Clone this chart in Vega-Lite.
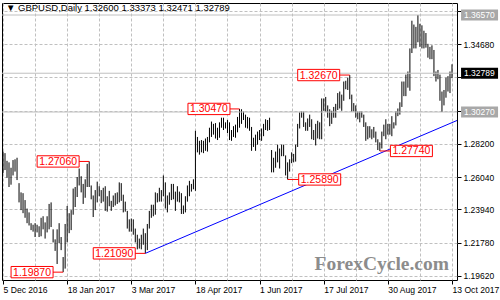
{
  "$schema": "https://vega.github.io/schema/vega-lite/v6.json",
  "width": 455,
  "height": 277,
  "autosize": "none",
  "padding": {"left": 2, "top": 3, "right": 43, "bottom": 20},
  "background": "white",
  "config": {"view": {"stroke": "black", "strokeWidth": 1}, "font": "Liberation Sans", "axis": {"labelOverlap": false}},
  "title": {"text": "▼ GBPUSD,Daily  1.32600 1.33373 1.32471 1.32789", "anchor": "start", "frame": "group", "orient": "top", "offset": -14, "dx": 4, "font": "Liberation Sans", "fontSize": 9.5, "fontWeight": "normal", "color": "black", "baseline": "middle"},
  "datasets": {
    "bars": [
      {"i":0,"h":1.2770,"l":1.2630},{"i":1,"h":1.2760,"l":1.2650},{"i":2,"h":1.2710,"l":1.2600},{"i":3,"h":1.2700,"l":1.2540},{"i":4,"h":1.2665,"l":1.2555},
      {"i":5,"h":1.2715,"l":1.2615},{"i":6,"h":1.2720,"l":1.2640},{"i":7,"h":1.2730,"l":1.2585},{"i":8,"h":1.2565,"l":1.2440},{"i":9,"h":1.2505,"l":1.2390},
      {"i":10,"h":1.2500,"l":1.2370},{"i":11,"h":1.2455,"l":1.2340},{"i":12,"h":1.2400,"l":1.2305},{"i":13,"h":1.2375,"l":1.2290},{"i":14,"h":1.2305,"l":1.2260},
      {"i":15,"h":1.2295,"l":1.2250},{"i":16,"h":1.2305,"l":1.2215},{"i":17,"h":1.2295,"l":1.2245},{"i":18,"h":1.2285,"l":1.2215},{"i":19,"h":1.2340,"l":1.2220},
      {"i":20,"h":1.2350,"l":1.2265},{"i":21,"h":1.2310,"l":1.2205},{"i":22,"h":1.2350,"l":1.2245},{"i":23,"h":1.2430,"l":1.2265},{"i":24,"h":1.2440,"l":1.2280},
      {"i":25,"h":1.2265,"l":1.2180},{"i":26,"h":1.2200,"l":1.2125},{"i":27,"h":1.2265,"l":1.2040},{"i":28,"h":1.2305,"l":1.2175},{"i":29,"h":1.2215,"l":1.2130},
      {"i":30,"h":1.2085,"l":1.1987},{"i":31,"h":1.2300,"l":1.2010},{"i":32,"h":1.2417,"l":1.2180},{"i":33,"h":1.2370,"l":1.2240},{"i":34,"h":1.2390,"l":1.2260},
      {"i":35,"h":1.2530,"l":1.2360},{"i":36,"h":1.2540,"l":1.2410},{"i":37,"h":1.2605,"l":1.2475},{"i":38,"h":1.2660,"l":1.2550},{"i":39,"h":1.2610,"l":1.2505},
      {"i":40,"h":1.2560,"l":1.2430},{"i":41,"h":1.2590,"l":1.2470},{"i":42,"h":1.2690,"l":1.2540},{"i":43,"h":1.2706,"l":1.2540},{"i":44,"h":1.2550,"l":1.2460},
      {"i":45,"h":1.2485,"l":1.2345},{"i":46,"h":1.2520,"l":1.2390},{"i":47,"h":1.2575,"l":1.2440},{"i":48,"h":1.2545,"l":1.2480},{"i":49,"h":1.2520,"l":1.2435},
      {"i":50,"h":1.2535,"l":1.2445},{"i":51,"h":1.2545,"l":1.2385},{"i":52,"h":1.2480,"l":1.2380},{"i":53,"h":1.2515,"l":1.2415},{"i":54,"h":1.2450,"l":1.2385},
      {"i":55,"h":1.2485,"l":1.2410},{"i":56,"h":1.2500,"l":1.2420},{"i":57,"h":1.2505,"l":1.2430},{"i":58,"h":1.2570,"l":1.2440},{"i":59,"h":1.2565,"l":1.2450},
      {"i":60,"h":1.2490,"l":1.2375},{"i":61,"h":1.2445,"l":1.2380},{"i":62,"h":1.2385,"l":1.2270},{"i":63,"h":1.2330,"l":1.2250},{"i":64,"h":1.2335,"l":1.2250},
      {"i":65,"h":1.2330,"l":1.2230},{"i":66,"h":1.2270,"l":1.2180},{"i":67,"h":1.2230,"l":1.2135},{"i":68,"h":1.2205,"l":1.2140},{"i":69,"h":1.2230,"l":1.2135},
      {"i":70,"h":1.2270,"l":1.2165},{"i":71,"h":1.2240,"l":1.2109},{"i":72,"h":1.2300,"l":1.2130},{"i":73,"h":1.2385,"l":1.2270},{"i":74,"h":1.2425,"l":1.2340},
      {"i":75,"h":1.2425,"l":1.2350},{"i":76,"h":1.2505,"l":1.2360},{"i":77,"h":1.2500,"l":1.2440},{"i":78,"h":1.2535,"l":1.2445},{"i":79,"h":1.2520,"l":1.2445},
      {"i":80,"h":1.2615,"l":1.2480},{"i":81,"h":1.2570,"l":1.2400},{"i":82,"h":1.2485,"l":1.2375},{"i":83,"h":1.2505,"l":1.2425},{"i":84,"h":1.2560,"l":1.2455},
      {"i":85,"h":1.2560,"l":1.2460},{"i":86,"h":1.2510,"l":1.2385},{"i":87,"h":1.2545,"l":1.2445},{"i":88,"h":1.2510,"l":1.2440},{"i":89,"h":1.2500,"l":1.2365},
      {"i":90,"h":1.2420,"l":1.2365},{"i":91,"h":1.2480,"l":1.2375},{"i":92,"h":1.2550,"l":1.2445},{"i":93,"h":1.2580,"l":1.2480},{"i":94,"h":1.2560,"l":1.2510},
      {"i":95,"h":1.2590,"l":1.2525},{"i":96,"h":1.2905,"l":1.2515},{"i":97,"h":1.2865,"l":1.2765},{"i":98,"h":1.2840,"l":1.2750},{"i":99,"h":1.2845,"l":1.2765},
      {"i":100,"h":1.2840,"l":1.2760},{"i":101,"h":1.2855,"l":1.2775},{"i":102,"h":1.2865,"l":1.2770},{"i":103,"h":1.2925,"l":1.2830},{"i":104,"h":1.2965,"l":1.2865},
      {"i":105,"h":1.2950,"l":1.2880},{"i":106,"h":1.2955,"l":1.2855},{"i":107,"h":1.2925,"l":1.2845},{"i":108,"h":1.2960,"l":1.2860},{"i":109,"h":1.2990,"l":1.2925},
      {"i":110,"h":1.2990,"l":1.2910},{"i":111,"h":1.2960,"l":1.2920},{"i":112,"h":1.2975,"l":1.2890},{"i":113,"h":1.2960,"l":1.2845},{"i":114,"h":1.2910,"l":1.2840},
      {"i":115,"h":1.2935,"l":1.2865},{"i":116,"h":1.2945,"l":1.2860},{"i":117,"h":1.2995,"l":1.2895},{"i":118,"h":1.3047,"l":1.2925},{"i":119,"h":1.3045,"l":1.2950},
      {"i":120,"h":1.3030,"l":1.2975},{"i":121,"h":1.3010,"l":1.2925},{"i":122,"h":1.2995,"l":1.2920},{"i":123,"h":1.2990,"l":1.2905},{"i":124,"h":1.2930,"l":1.2775},
      {"i":125,"h":1.2860,"l":1.2800},{"i":126,"h":1.2880,"l":1.2775},{"i":127,"h":1.2900,"l":1.2815},{"i":128,"h":1.2910,"l":1.2845},{"i":129,"h":1.2920,"l":1.2840},
      {"i":130,"h":1.2950,"l":1.2870},{"i":131,"h":1.2980,"l":1.2910},{"i":132,"h":1.2975,"l":1.2905},{"i":133,"h":1.2990,"l":1.2910},{"i":134,"h":1.2780,"l":1.2635},
      {"i":135,"h":1.2730,"l":1.2635},{"i":136,"h":1.2770,"l":1.2665},{"i":137,"h":1.2815,"l":1.2700},{"i":138,"h":1.2790,"l":1.2660},{"i":139,"h":1.2815,"l":1.2740},
      {"i":140,"h":1.2815,"l":1.2740},{"i":141,"h":1.2745,"l":1.2615},{"i":142,"h":1.2700,"l":1.2589},{"i":143,"h":1.2720,"l":1.2640},{"i":144,"h":1.2765,"l":1.2695},
      {"i":145,"h":1.2755,"l":1.2700},{"i":146,"h":1.2815,"l":1.2705},{"i":147,"h":1.2950,"l":1.2800},{"i":148,"h":1.3025,"l":1.2920},{"i":149,"h":1.3030,"l":1.2990},
      {"i":150,"h":1.3030,"l":1.2930},{"i":151,"h":1.2960,"l":1.2905},{"i":152,"h":1.2985,"l":1.2905},{"i":153,"h":1.3010,"l":1.2930},{"i":154,"h":1.2980,"l":1.2850},
      {"i":155,"h":1.2910,"l":1.2845},{"i":156,"h":1.2950,"l":1.2810},{"i":157,"h":1.2970,"l":1.2855},{"i":158,"h":1.2960,"l":1.2850},{"i":159,"h":1.3115,"l":1.2850},
      {"i":160,"h":1.3115,"l":1.3035},{"i":161,"h":1.3125,"l":1.3030},{"i":162,"h":1.3070,"l":1.2990},{"i":163,"h":1.3045,"l":1.2935},{"i":164,"h":1.3035,"l":1.2950},
      {"i":165,"h":1.3060,"l":1.2990},{"i":166,"h":1.3080,"l":1.2990},{"i":167,"h":1.3150,"l":1.3040},{"i":168,"h":1.3160,"l":1.3050},{"i":169,"h":1.3140,"l":1.3035},
      {"i":170,"h":1.3225,"l":1.3100},{"i":171,"h":1.3230,"l":1.3175},{"i":172,"h":1.3250,"l":1.3170},{"i":173,"h":1.3267,"l":1.3110},{"i":174,"h":1.3140,"l":1.3030},
      {"i":175,"h":1.3085,"l":1.3030},{"i":176,"h":1.3070,"l":1.2990},{"i":177,"h":1.3030,"l":1.2980},{"i":178,"h":1.3030,"l":1.2960},{"i":179,"h":1.3030,"l":1.2990},
      {"i":180,"h":1.3010,"l":1.2930},{"i":181,"h":1.2960,"l":1.2840},{"i":182,"h":1.2935,"l":1.2850},{"i":183,"h":1.2935,"l":1.2860},{"i":184,"h":1.2915,"l":1.2850},
      {"i":185,"h":1.2930,"l":1.2860},{"i":186,"h":1.2900,"l":1.2830},{"i":187,"h":1.2850,"l":1.2780},{"i":188,"h":1.2830,"l":1.2774},{"i":189,"h":1.2900,"l":1.2790},
      {"i":190,"h":1.2945,"l":1.2870},{"i":191,"h":1.2980,"l":1.2850},{"i":192,"h":1.2950,"l":1.2880},{"i":193,"h":1.2950,"l":1.2880},{"i":194,"h":1.3000,"l":1.2870},
      {"i":195,"h":1.2960,"l":1.2920},{"i":196,"h":1.3030,"l":1.2940},{"i":197,"h":1.3050,"l":1.3000},{"i":198,"h":1.3090,"l":1.3010},{"i":199,"h":1.3225,"l":1.3060},
      {"i":200,"h":1.3225,"l":1.3130},{"i":201,"h":1.3270,"l":1.3130},{"i":202,"h":1.3290,"l":1.3185},{"i":203,"h":1.3440,"l":1.3165},{"i":204,"h":1.3620,"l":1.3410},
      {"i":205,"h":1.3595,"l":1.3440},{"i":206,"h":1.3580,"l":1.3440},{"i":207,"h":1.3657,"l":1.3480},{"i":208,"h":1.3600,"l":1.3450},{"i":209,"h":1.3590,"l":1.3440},
      {"i":210,"h":1.3555,"l":1.3440},{"i":211,"h":1.3540,"l":1.3445},{"i":212,"h":1.3470,"l":1.3380},{"i":213,"h":1.3450,"l":1.3370},{"i":214,"h":1.3460,"l":1.3370},
      {"i":215,"h":1.3430,"l":1.3260},{"i":216,"h":1.3290,"l":1.3225},{"i":217,"h":1.3300,"l":1.3240},{"i":218,"h":1.3270,"l":1.3100},{"i":219,"h":1.3160,"l":1.3027},
      {"i":220,"h":1.3170,"l":1.3070},{"i":221,"h":1.3250,"l":1.3120},{"i":222,"h":1.3260,"l":1.3160},{"i":223,"h":1.3290,"l":1.3150},{"i":224,"h":1.3337,"l":1.3247}
    ],
    "trend": [{"i":71,"p":1.2109},{"i":226.5,"p":1.2972}],
    "levels": [
      {"p":1.3657,"label":"1.36570","kind":"line"},
      {"p":1.3027,"label":"1.30270","kind":"line"},
      {"p":1.32789,"label":"1.32789","kind":"bid"}
    ],
    "notes": [
      {"label":"1.19870","p":1.1987,"ci":14.5,"bar":30},
      {"label":"1.27060","p":1.2706,"ci":27.5,"bar":43},
      {"label":"1.21090","p":1.2109,"ci":55.5,"bar":71},
      {"label":"1.30470","p":1.3047,"ci":102.75,"bar":118},
      {"label":"1.32670","p":1.3267,"ci":157.5,"bar":173},
      {"label":"1.25890","p":1.2589,"ci":158,"bar":142},
      {"label":"1.27740","p":1.2774,"ci":203.75,"bar":188}
    ]
  },
  "layer": [
    {
      "data": {"name": "bars"},
      "mark": {"type": "rule", "color": "black", "strokeWidth": 1},
      "encoding": {
        "x": {
          "field": "i", "type": "quantitative", "title": null,
          "scale": {"domain": [-0.5, 226.5], "nice": false, "zero": false},
          "axis": {
            "values": [0,16,32,48,64,80,96,112,128,144,160,176,192,208,224],
            "tickCount": 30,
            "grid": true, "gridColor": "#c0c0c0", "gridDash": [3,2], "domain": false,
            "tickColor": "black", "tickSize": 4,
            "tickOpacity": {"condition": {"test": "datum.value % 32 === 0", "value": 1}, "value": 0},
            "labelExpr": "datum.value == 0 ? '5 Dec 2016' : datum.value == 32 ? '18 Jan 2017' : datum.value == 64 ? '3 Mar 2017' : datum.value == 96 ? '18 Apr 2017' : datum.value == 128 ? '1 Jun 2017' : datum.value == 160 ? '17 Jul 2017' : datum.value == 192 ? '30 Aug 2017' : datum.value == 224 ? '13 Oct 2017' : ''",
            "labelAlign": "left", "labelFont": "Liberation Sans", "labelFontSize": 8.6, "labelColor": "black",
            "labelPadding": 1, "labelOverlap": false, "labelBound": false, "labelFlush": false
          }
        },
        "y": {
          "field": "l", "type": "quantitative", "title": null,
          "scale": {"domain": [1.1936, 1.3735], "nice": false, "zero": false},
          "axis": {
            "orient": "right",
            "values": [1.1962,1.2178,1.2394,1.2604,1.282,1.3036,1.3252,1.3468,1.3684],
            "tickCount": 30,
            "format": ".5f",
            "labelExpr": "(datum.value > 1.30 && datum.value < 1.33) || datum.value > 1.36 ? '' : datum.label",
            "grid": true, "gridColor": "#c0c0c0", "gridDash": [3,2], "domain": false,
            "tickColor": "black", "tickSize": 4,
            "labelAlign": "left", "labelBaseline": "middle", "labelFont": "Liberation Sans", "labelFontSize": 8.5, "labelColor": "black",
            "labelPadding": 2, "labelOverlap": false, "labelBound": false, "labelFlush": false
          }
        },
        "y2": {"field": "h"}
      }
    },
    {
      "data": {"name": "levels"},
      "mark": {"type": "rule", "color": "#c0c0c0", "strokeWidth": 1},
      "encoding": {"y": {"field": "p", "type": "quantitative", "title": null}}
    },
    {
      "data": {"values": [{"wm": "ForexCycle.com"}]},
      "mark": {"type": "text", "align": "right", "baseline": "alphabetic", "font": "Liberation Serif", "fontWeight": "bold", "fontSize": 19.5, "color": "#8c8c8c"},
      "encoding": {
        "x": {"datum": 222.5, "type": "quantitative", "title": null},
        "y": {"datum": 1.2001, "type": "quantitative", "title": null},
        "text": {"field": "wm"}
      }
    },
    {
      "data": {"name": "trend"},
      "mark": {"type": "line", "color": "#0000ff", "strokeWidth": 1, "clip": true},
      "encoding": {
        "x": {"field": "i", "type": "quantitative", "title": null},
        "y": {"field": "p", "type": "quantitative", "title": null}
      }
    },
    {
      "data": {"name": "notes"},
      "mark": {"type": "rule", "color": "#ff0000", "strokeWidth": 1},
      "encoding": {
        "x": {"field": "ci", "type": "quantitative", "title": null},
        "x2": {"field": "bar"},
        "y": {"field": "p", "type": "quantitative", "title": null}
      }
    },
    {
      "data": {"name": "notes"},
      "mark": {"type": "point", "shape": "M-1,-0.27H1V0.27H-1Z", "size": 1764, "filled": true, "fill": "white", "stroke": "#ff0000", "strokeWidth": 1, "opacity": 1, "fillOpacity": 1, "strokeOpacity": 1},
      "encoding": {
        "x": {"field": "ci", "type": "quantitative", "title": null},
        "y": {"field": "p", "type": "quantitative", "title": null}
      }
    },
    {
      "data": {"name": "notes"},
      "mark": {"type": "text", "color": "#ff0000", "font": "Liberation Sans", "fontSize": 10.5, "align": "center", "baseline": "middle", "dy": 0.5},
      "encoding": {
        "x": {"field": "ci", "type": "quantitative", "title": null},
        "y": {"field": "p", "type": "quantitative", "title": null},
        "text": {"field": "label"}
      }
    },
    {
      "data": {"name": "levels"},
      "mark": {"type": "point", "shape": "M-1,-0.3H1V0.3H-1Z", "size": 1369, "filled": true, "opacity": 1, "strokeWidth": 0},
      "encoding": {
        "x": {"datum": 237.75, "type": "quantitative", "title": null},
        "y": {"field": "p", "type": "quantitative", "title": null},
        "color": {"field": "kind", "type": "nominal", "scale": {"domain": ["line", "bid"], "range": ["#a8a8a8", "#000000"]}, "legend": null}
      }
    },
    {
      "data": {"name": "levels"},
      "mark": {"type": "text", "color": "white", "font": "Liberation Sans", "fontSize": 8.5, "align": "left", "baseline": "middle"},
      "encoding": {
        "x": {"datum": 230, "type": "quantitative", "title": null},
        "y": {"field": "p", "type": "quantitative", "title": null},
        "text": {"field": "label"}
      }
    }
  ]
}
